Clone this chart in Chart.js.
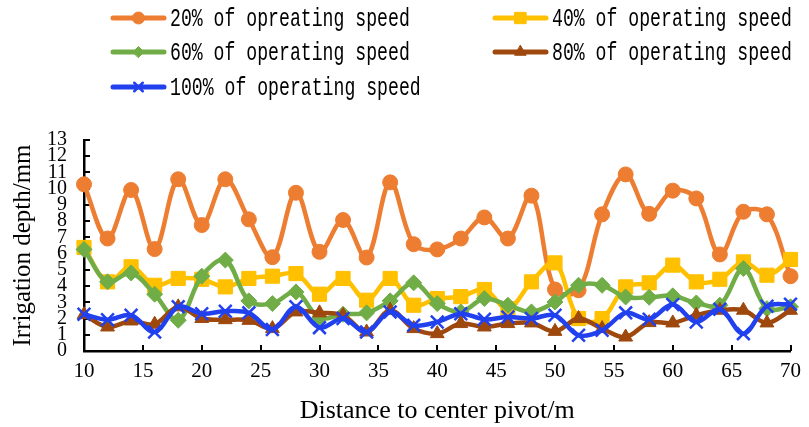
<!DOCTYPE html>
<html>
<head>
<meta charset="utf-8">
<script src="https://cdn.jsdelivr.net/npm/chart.js@4.4.1/dist/chart.umd.min.js"></script>
<style>
html,body{margin:0;padding:0;background:#fff;}
#wrap{width:809px;height:427px;position:relative;}
</style>
</head>
<body>
<div id="wrap"><canvas id="c" width="809" height="427"></canvas></div>
<script>
// ---- data ----
const distances = [10,12,14,16,18,20,22,24,26,28,30,32,34,36,38,40,42,44,46,48,50,52,54,56,58,60,62,64,66,68,70];
const speed20  = [10.27,6.93,9.92,6.28,10.58,7.76,10.58,8.11,5.78,9.75,6.11,8.07,5.76,10.39,6.58,6.26,6.93,8.23,6.93,9.57,3.79,3.74,8.42,10.88,8.45,9.88,9.40,5.95,8.58,8.42,4.61];
const speed40  = [6.38,4.26,5.19,4.05,4.47,4.42,3.95,4.47,4.61,4.77,3.50,4.47,3.13,4.47,2.82,3.23,3.35,3.79,2.60,4.26,5.43,2.00,2.00,3.95,4.20,5.29,4.26,4.42,5.49,4.67,5.64];
const speed60  = [6.26,4.26,4.81,3.50,1.89,4.61,5.60,3.09,2.92,3.64,2.03,2.26,2.35,3.09,4.20,2.92,2.41,3.23,2.82,2.41,3.02,4.05,4.05,3.33,3.31,3.40,2.96,2.82,5.08,2.61,2.72];
const speed80  = [2.24,1.48,1.85,1.65,2.72,2.00,1.93,1.89,1.38,2.41,2.35,2.20,1.17,2.51,1.38,1.07,1.69,1.48,1.69,1.73,1.21,2.00,1.38,0.86,1.75,1.73,2.20,2.51,2.51,1.73,2.51];
const speed100 = [2.26,1.93,2.20,1.17,2.72,2.30,2.45,2.35,1.33,2.72,1.44,2.00,1.17,2.41,1.58,1.79,2.30,1.95,2.10,2.00,2.20,0.97,1.28,2.35,1.96,2.86,1.79,2.57,1.07,2.76,2.88];
const seriesLabels = ["20% of opreating speed","40% of operating speed","60% of operating speed","80% of operating speed","100% of operating speed"];
const xTickValues = [10,15,20,25,30,35,40,45,50,55,60,65,70];
const yTickValues = [0,1,2,3,4,5,6,7,8,9,10,11,12,13];
const xTitle = "Distance to center pivot/m";
const yTitle = "Irrigation depth/mm";

// ---- styles ----
const colors = ['#ED7D31','#FFC000','#70AD47','#9E480E','#2140EE'];
const styles = ['circle','rect','rectRot','triangle','crossRot'];
const radii  = [7.5,10,8,8,9];
const legendRadii = [6,8,5.5,6.5,6];

function mk(i, data) {
  return {
    label: seriesLabels[i],
    data: distances.map((d, k) => ({x: d, y: data[k]})),
    borderColor: colors[i],
    backgroundColor: colors[i],
    borderWidth: 4.5,
    tension: 0.35,
    pointStyle: styles[i],
    pointRadius: radii[i],
    pointBackgroundColor: colors[i],
    pointBorderColor: colors[i],
    pointBorderWidth: styles[i] === 'crossRot' ? 2.5 : 1,
    order: 5 - i,
    clip: false
  };
}

const inwardTicks = {
  id: 'inwardTicks',
  beforeDatasetsDraw(chart) {
    const ctx = chart.ctx, xs = chart.scales.x, ys = chart.scales.y, a = chart.chartArea;
    ctx.save();
    ctx.strokeStyle = '#000';
    ctx.lineWidth = 2;
    ctx.beginPath();
    xs.ticks.forEach(t => {
      if (t.value === xs.min) return;
      const px = Math.round(xs.getPixelForValue(t.value));
      ctx.moveTo(px, a.bottom); ctx.lineTo(px, a.bottom - 6);
    });
    ys.ticks.forEach(t => {
      if (t.value === ys.min) return;
      const py = Math.round(ys.getPixelForValue(t.value));
      ctx.moveTo(a.left, py); ctx.lineTo(a.left + 6, py);
    });
    ctx.stroke();
    ctx.restore();
  }
};

const customLegend = {
  id: 'customLegend',
  afterDraw(chart) {
    const ctx = chart.ctx;
    const pos = [[111,18],[493,18],[111,52],[493,52],[111,87]];
    chart.data.datasets.forEach((ds, i) => {
      const [x0, y] = pos[i];
      ctx.save();
      ctx.strokeStyle = colors[i];
      ctx.fillStyle = colors[i];
      ctx.lineWidth = 5;
      ctx.lineCap = 'round';
      ctx.beginPath();
      ctx.moveTo(x0 + 2, y); ctx.lineTo(x0 + 53, y);
      ctx.stroke();
      ctx.lineWidth = styles[i] === 'crossRot' ? 2.5 : 1;
      Chart.helpers.drawPoint(ctx, {pointStyle: styles[i], radius: legendRadii[i], borderWidth: ctx.lineWidth, rotation: 0}, x0 + 27.5, y);
      ctx.restore();

      ctx.save();
      ctx.font = '26px "Liberation Mono"';
      ctx.fillStyle = '#000';
      ctx.textBaseline = 'middle';
      ctx.textAlign = 'left';
      const text = ds.label;
      const w = ctx.measureText(text).width;
      const sx = (10.9 * text.length) / w;
      ctx.translate(x0 + 59, y + 1);
      ctx.scale(sx, 1);
      ctx.fillText(text, 0, 0);
      ctx.restore();
    });
  }
};

new Chart(document.getElementById('c'), {
  type: 'line',
  data: {
    datasets: [mk(0, speed20), mk(1, speed40), mk(2, speed60), mk(3, speed80), mk(4, speed100)]
  },
  options: {
    responsive: false,
    devicePixelRatio: 1,
    animation: false,
    layout: {padding: {top: 140, left: 0, right: 14, bottom: 0}},
    plugins: {legend: {display: false}, tooltip: {enabled: false}},
    scales: {
      x: {
        type: 'linear',
        min: 10, max: 70,
        afterBuildTicks(scale) { scale.ticks = xTickValues.map(v => ({value: v})); },
        afterFit(scale) { scale.height = 76; },
        grid: {display: false, drawTicks: false},
        border: {display: true, color: '#000', width: 2.5},
        ticks: {
          padding: 8,
          autoSkip: false,
          maxRotation: 0,
          color: '#000',
          font: {family: '"Liberation Serif"', size: 21}
        },
        title: {
          display: true,
          text: xTitle,
          color: '#000',
          font: {family: '"Liberation Serif"', size: 26},
          padding: {top: 0, bottom: 0}
        }
      },
      y: {
        type: 'linear',
        min: 0, max: 13,
        afterBuildTicks(scale) { scale.ticks = yTickValues.map(v => ({value: v})); },
        afterFit(scale) { scale.width = 84; },
        grid: {display: false, drawTicks: false},
        border: {display: true, color: '#000', width: 2.5},
        ticks: {
          padding: 17,
          autoSkip: false,
          color: '#000',
          font: {family: '"Liberation Serif"', size: 20}
        },
        title: {
          display: true,
          text: yTitle,
          color: '#000',
          font: {family: '"Liberation Serif"', size: 25},
          padding: {top: 8, bottom: 0}
        }
      }
    }
  },
  plugins: [inwardTicks, customLegend]
});
</script>
</body>
</html>
